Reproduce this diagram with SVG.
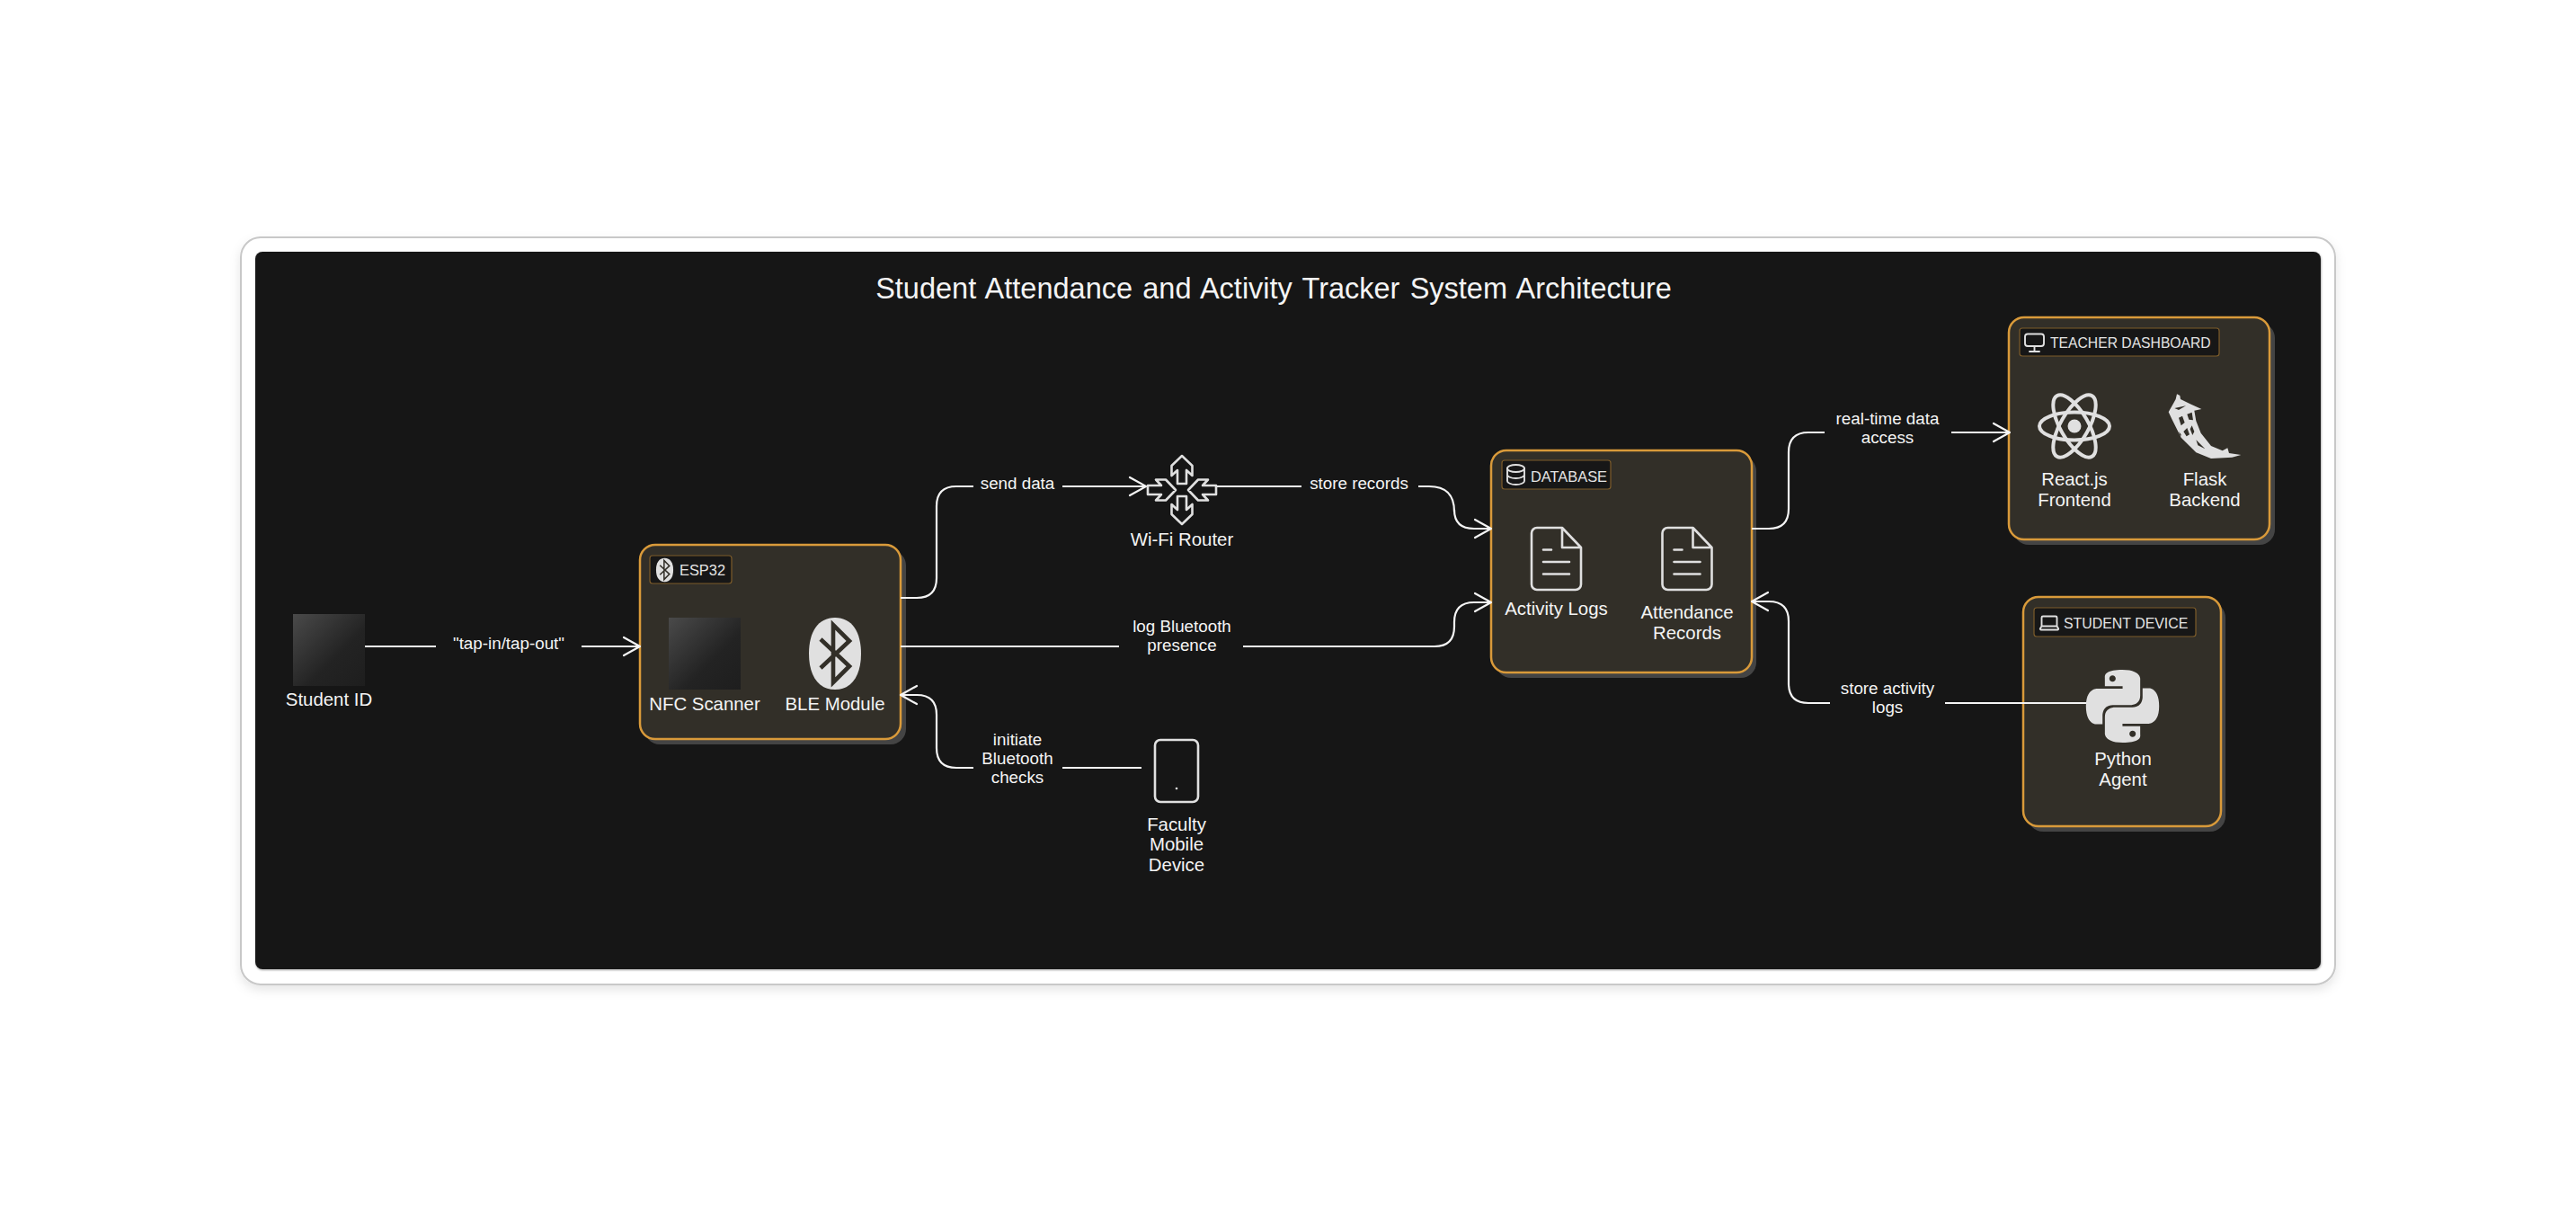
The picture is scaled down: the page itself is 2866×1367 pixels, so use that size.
<svg xmlns="http://www.w3.org/2000/svg" width="2866" height="1367" viewBox="0 0 2866 1367">
<style>
text{font-family:"Liberation Sans",Arial,sans-serif;fill:#f4f4f4;text-anchor:middle}
.n{font-size:20.4px}
.e{font-size:18.8px}
.t{font-size:16.4px;text-anchor:start;fill:#e4e4e4}
.shadow{fill:#444}
.box{fill:#322f28;stroke:#d99a3a;stroke-width:2.5}
.tag{fill:#171717;stroke:#7d5c2a;stroke-width:1.2}
.ico{fill:none;stroke:#e0e0e0;stroke-width:2.6;stroke-linejoin:round;stroke-linecap:round}
.ico2{fill:none;stroke:#e0e0e0;stroke-width:1.9;stroke-linejoin:round;stroke-linecap:round}
.sol{fill:#e0e0e0}
#connectors path{fill:none;stroke:#f4f4f4;stroke-width:2.2;marker-end:url(#arr)}
</style>
<defs>
<filter id="outer" x="-3%" y="-5%" width="106%" height="112%"><feDropShadow dx="0" dy="5" stdDeviation="6" flood-color="#000" flood-opacity=".1"/></filter>
<filter id="inner" x="-1%" y="-1%" width="102%" height="102%"><feDropShadow dx="0.500" dy="1" stdDeviation="0.800" flood-color="#000" flood-opacity=".4"/></filter>
<marker id="arr" markerUnits="userSpaceOnUse" markerWidth="30" markerHeight="30" refX="24" refY="12" orient="auto" overflow="visible">
<path d="M6 2 L24 12 L6 22" fill="none" stroke="#f4f4f4" stroke-width="2.2" stroke-linecap="round" stroke-linejoin="round"/>
</marker>
<linearGradient id="nfc" x1="0" y1="0" x2="1" y2="1"><stop offset="0" stop-color="#4a4a4a"/><stop offset=".6" stop-color="#232323"/><stop offset="1" stop-color="#1e1e1e"/></linearGradient>
<g id="bt"><path class="sol" d="M0 -40 C19 -40 29 -24 29 0 C29 24 19 40 0 40 C-19 40 -29 24 -29 0 C-29 -24 -19 -40 0 -40Z"/><path d="M-16 -16 L16 14 L-2 32 L-2 -32 L16 -14 L-16 16" fill="none" stroke="#322f28" stroke-width="4.6"/></g>
<g id="doc"><path class="ico" d="M34 0H6a6 6 0 0 0-6 6V63a6 6 0 0 0 6 6H49a6 6 0 0 0 6-6V22ZV22H55M13 24.500H22M13 38H42M13 51.500H42"/></g>
<path id="arw" class="ico" d="M0 -38L11.500 -27V-16L5 -22V-7H-5V-22L-11.500 -16V-27Z"/>
</defs>
<rect width="2866" height="1367" fill="#fff"/>
<rect x="268" y="264" width="2330" height="831" rx="22" fill="#fff" stroke="#c8c8c8" stroke-width="2" filter="url(#outer)"/>
<rect x="284" y="280" width="2298" height="798" rx="8" fill="#171717" filter="url(#inner)"/>
<text id="title" x="1417" y="332" style="font-size:32.500px;word-spacing:2.200px">Student Attendance and Activity Tracker System Architecture</text>

<g id="student-id">
<rect x="326" y="683" width="80" height="80" fill="url(#nfc)"/>
<text class="n" x="366" y="785">Student ID</text>
</g>

<g id="esp32">
<rect class="shadow" x="717" y="612" width="291" height="216" rx="17"/>
<rect class="box" x="712" y="606" width="290" height="216" rx="17"/>
<rect class="tag" x="723" y="618" width="91" height="31" rx="3"/>
<use href="#bt" transform="translate(739.500 634) scale(.33)"/>
<text class="t" x="756" y="640">ESP32</text>
<g id="nfc-scanner"><rect x="744" y="687" width="80" height="80" fill="url(#nfc)"/>
<text class="n" x="784" y="790">NFC Scanner</text></g>
<g id="ble-module"><use href="#bt" transform="translate(929 727)"/>
<text class="n" x="929" y="790">BLE Module</text></g>
</g>

<g id="wifi-router">
<g transform="translate(1315 545)">
<use href="#arw"/><use href="#arw" transform="rotate(180)"/>
<use href="#arw" transform="translate(-45 0) rotate(90)"/><use href="#arw" transform="translate(45 0) rotate(-90)"/>
</g>
<text class="n" x="1315" y="607">Wi-Fi Router</text>
</g>

<g id="faculty-device">
<rect class="ico" x="1285" y="823" width="48" height="69" rx="6"/>
<circle cx="1309" cy="877" r="1.300" fill="#e0e0e0"/>
<text class="n"><tspan x="1309" y="924">Faculty</tspan><tspan x="1309" y="946">Mobile</tspan><tspan x="1309" y="969">Device</tspan></text>
</g>

<g id="database">
<rect class="shadow" x="1664" y="507" width="290" height="247" rx="17"/>
<rect class="box" x="1659" y="501" width="290" height="247" rx="17"/>
<rect class="tag" x="1671" y="512" width="121" height="32" rx="3"/>
<g class="ico2" transform="translate(1677 517)"><ellipse cx="9.500" cy="4" rx="9.500" ry="4"/><path d="M0 4V18C0 20 4 22 9.500 22S19 20 19 18V4M0 11C0 13 4 15 9.500 15S19 13 19 11"/></g>
<text class="t" x="1703" y="536">DATABASE</text>
<g id="activity-logs"><use href="#doc" x="1704" y="587"/>
<text class="n" x="1731.500" y="684">Activity Logs</text></g>
<g id="attendance-records"><use href="#doc" x="1849.500" y="587"/>
<text class="n"><tspan x="1877" y="688">Attendance</tspan><tspan x="1877" y="711">Records</tspan></text></g>
</g>

<g id="teacher-dashboard">
<rect class="shadow" x="2240" y="359" width="291" height="247" rx="17"/>
<rect class="box" x="2235" y="353" width="290" height="247" rx="17"/>
<rect class="tag" x="2247" y="365" width="222" height="31" rx="3"/>
<path class="ico2" d="M2256 371.500H2271a3 3 0 0 1 3 3V382a3 3 0 0 1-3 3H2256a3 3 0 0 1-3-3V374.500a3 3 0 0 1 3-3ZM2263.500 385V391M2258 391H2269"/>
<text class="t" x="2281" y="387" style="font-size:15.700px">TEACHER DASHBOARD</text>
<g id="react-frontend">
<g fill="none" stroke="#e0e0e0" stroke-width="4" transform="translate(2308 474)"><ellipse rx="39" ry="15.500"/><ellipse rx="39" ry="15.500" transform="rotate(60)"/><ellipse rx="39" ry="15.500" transform="rotate(-60)"/></g>
<circle cx="2308" cy="474" r="7.500" fill="#e0e0e0"/>
<text class="n"><tspan x="2308" y="540">React.js</tspan><tspan x="2308" y="563">Frontend</tspan></text>
</g>
<g id="flask-backend">
<g transform="translate(2400 430) scale(.3333)">
<path class="sol" d="M66 25L76 30L78 42L110 58L148 75L124 80L130 115L146 155L180 198L218 214L235 205L240 222L280 228L250 236L180 240L130 220L80 170L50 110L38 85L55 55L62 42Z"/>
<path fill="#322f28" d="M72 104L84 98L92 120L80 130ZM100 92L116 86L120 112L106 110ZM88 150L100 138L108 160L98 166ZM116 130L124 150L118 162L110 142ZM130 178L160 208L136 196ZM58 72L96 64L72 78ZM72 150L80 160L78 168Z"/>
</g>
<text class="n"><tspan x="2453" y="540">Flask</tspan><tspan x="2453" y="563">Backend</tspan></text>
</g>
</g>

<g id="student-device">
<rect class="shadow" x="2256" y="670" width="220" height="255" rx="17"/>
<rect class="box" x="2251" y="664" width="220" height="255" rx="17"/>
<rect class="tag" x="2263" y="676" width="180" height="32" rx="3"/>
<path class="ico2" d="M2273 685.500H2287a1.500 1.500 0 0 1 1.500 1.500V696.500H2271.500V687a1.500 1.500 0 0 1 1.500-1.500ZM2271.500 696.500L2270 699a1 1 0 0 0 1 1.500H2289a1 1 0 0 0 1-1.500L2288.500 696.500"/>
<text class="t" x="2296" y="699" style="font-size:15.900px">STUDENT DEVICE</text>
<g id="python-agent">
<path class="sol" transform="translate(2321 745) scale(3.375)" d="M14.25.18l.9.2.73.26.59.3.45.32.34.34.25.34.16.33.1.3.04.26.02.2-.01.13V8.500l-.05.63-.13.55-.21.46-.26.38-.3.31-.33.25-.35.19-.35.14-.33.1-.3.07-.26.04-.21.02H8.770l-.69.05-.59.14-.5.22-.41.27-.33.32-.27.35-.2.36-.15.37-.1.35-.07.32-.04.27-.02.21v3.060H3.170l-.21-.03-.28-.07-.32-.12-.35-.18-.36-.26-.36-.36-.35-.46-.32-.59-.28-.73-.21-.88-.14-1.050-.05-1.230.06-1.220.16-1.040.24-.87.32-.71.36-.57.4-.44.42-.33.42-.24.4-.16.36-.1.32-.05.24-.01h.16l.06.01h8.160v-.83H6.180l-.01-2.750-.02-.37.05-.34.11-.31.17-.28.25-.26.31-.23.38-.2.44-.18.51-.15.58-.12.64-.1.71-.06.77-.04.84-.02 1.270.05zm-6.300 1.980l-.23.33-.08.41.08.41.23.34.33.22.41.09.41-.09.33-.22.23-.34.08-.41-.08-.41-.23-.33-.33-.22-.41-.09-.41.09zm13.090 3.950l.28.06.32.12.35.18.36.27.36.35.35.47.32.59.28.73.21.88.14 1.040.05 1.230-.06 1.230-.16 1.040-.24.86-.32.71-.36.57-.4.45-.42.33-.42.24-.4.16-.36.09-.32.05-.24.02-.16-.01h-8.220v.82h5.840l.01 2.760.02.36-.05.34-.11.31-.17.29-.25.25-.31.24-.38.2-.44.17-.51.15-.58.13-.64.09-.71.07-.77.04-.84.01-1.270-.04-1.070-.14-.9-.2-.73-.25-.59-.3-.45-.33-.34-.34-.25-.34-.16-.33-.1-.3-.04-.25-.02-.2.01-.13v-5.340l.05-.64.13-.54.21-.46.26-.38.3-.32.33-.24.35-.2.35-.14.33-.1.3-.06.26-.04.21-.02.13-.01h5.840l.69-.05.59-.14.5-.21.41-.28.33-.32.27-.35.2-.36.15-.36.1-.35.07-.32.04-.28.02-.21V6.070h2.090l.14.01zm-6.470 14.250l-.23.33-.08.41.08.41.23.33.33.23.41.08.41-.08.33-.23.23-.33.08-.41-.08-.41-.23-.33-.33-.23-.41-.08-.41.08z"/>
<text class="n"><tspan x="2362" y="851">Python</tspan><tspan x="2362" y="874">Agent</tspan></text>
</g>
</g>

<g id="connectors">
<path d="M406 719H485M647 719H712"/>
<path d="M1002 665H1020Q1042 665 1042 643V563Q1042 541 1064 541H1083M1182 541H1275"/>
<path d="M1354 541H1448M1578 541H1590Q1618 541 1618 569V567Q1618 588 1640 588H1659"/>
<path d="M1002 719H1245M1383 719H1596Q1618 719 1618 697V692Q1618 670 1640 670H1659"/>
<path d="M1270 854H1182M1083 854H1064Q1042 854 1042 832V795Q1042 773 1020 773H1002"/>
<path d="M1949 588H1968Q1990 588 1990 566V503Q1990 481 2012 481H2030M2171 481H2236"/>
<path d="M2321 782H2164M2036 782H2012Q1990 782 1990 760V691Q1990 669 1968 669H1949"/>
</g>
<g id="edge-labels">
<text class="e" x="566" y="721.500">"tap-in/tap-out"</text>
<text class="e" x="1132" y="544">send data</text>
<text class="e" x="1512" y="544">store records</text>
<text class="e"><tspan x="1315" y="703">log Bluetooth</tspan><tspan x="1315" y="724">presence</tspan></text>
<text class="e"><tspan x="1132" y="829">initiate</tspan><tspan x="1132" y="850">Bluetooth</tspan><tspan x="1132" y="871">checks</tspan></text>
<text class="e"><tspan x="2100" y="472">real-time data</tspan><tspan x="2100" y="493">access</tspan></text>
<text class="e"><tspan x="2100" y="772">store activity</tspan><tspan x="2100" y="793">logs</tspan></text>
</g>
</svg>
